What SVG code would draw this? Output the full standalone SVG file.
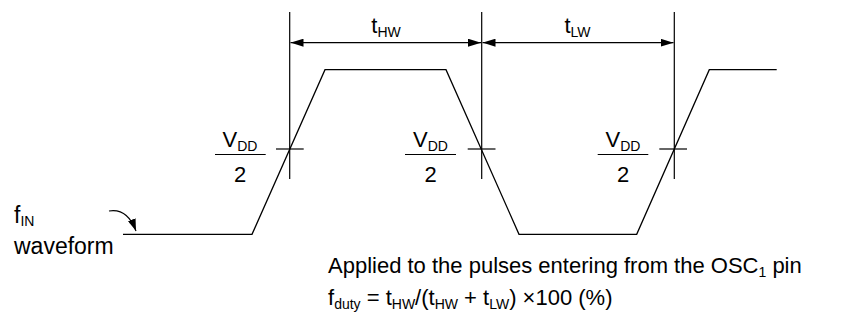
<svg xmlns="http://www.w3.org/2000/svg" width="849" height="322" viewBox="0 0 849 322">
<defs>
<style>
.ln{fill:none;stroke:#000;stroke-width:1.2}
.wave{fill:none;stroke:#000;stroke-width:1.3;stroke-linejoin:miter}
text{font-family:"Liberation Sans",Arial,sans-serif;font-size:22px;fill:#000}
.sub{font-size:14px}
.big{font-size:23px}
</style>
<marker id="ah" viewBox="0 0 13 8" refX="13" refY="4" markerWidth="13" markerHeight="8" markerUnits="userSpaceOnUse" orient="auto-start-reverse">
<path d="M0,0 L13,4 L0,8 Z" fill="#000"/>
</marker>
<marker id="ah2" viewBox="0 0 12 8" refX="12" refY="4" markerWidth="12" markerHeight="8" markerUnits="userSpaceOnUse" orient="auto">
<path d="M0,0 L12,4 L0,8 Z" fill="#000"/>
</marker>
</defs>
<rect width="849" height="322" fill="#fff"/>
<g id="waveform">
<polyline class="wave" points="123,234.3 252,234.3 325,69.7 446,69.7 519,234.3 636.7,234.3 709.3,69.7 776.7,69.7"/>
</g>
<g id="connectors">
<line class="ln" x1="289.7" y1="12" x2="289.7" y2="179"/>
<line class="ln" x1="481.7" y1="12" x2="481.7" y2="179"/>
<line class="ln" x1="674.3" y1="12" x2="674.3" y2="179"/>
<line class="ln" x1="276" y1="149" x2="303.7" y2="149"/>
<line class="ln" x1="467.7" y1="149" x2="495.5" y2="149"/>
<line class="ln" x1="659.3" y1="149" x2="687" y2="149"/>
<line class="ln" x1="290.5" y1="42.7" x2="481" y2="42.7" marker-start="url(#ah)" marker-end="url(#ah)"/>
<line class="ln" x1="482.5" y1="42.7" x2="673.5" y2="42.7" marker-start="url(#ah)" marker-end="url(#ah)"/>
<path class="ln" d="M109,211 C121,209 130,215 136,231" marker-end="url(#ah2)"/>
</g>
<g id="label-thw"><text x="386" y="33" text-anchor="middle">t<tspan class="sub" dy="4">HW</tspan></text></g>
<g id="label-tlw"><text x="577.5" y="33" text-anchor="middle">t<tspan class="sub" dy="4">LW</tspan></text></g>
<g id="frac1">
<text x="240" y="147" text-anchor="middle">V<tspan class="sub" dy="4">DD</tspan></text>
<line class="ln" x1="215" y1="154.5" x2="265.7" y2="154.5"/>
<text x="240" y="182" text-anchor="middle">2</text>
</g>
<g id="frac2">
<text x="430.5" y="147" text-anchor="middle">V<tspan class="sub" dy="4">DD</tspan></text>
<line class="ln" x1="405" y1="154.5" x2="456" y2="154.5"/>
<text x="430.5" y="182" text-anchor="middle">2</text>
</g>
<g id="frac3">
<text x="623" y="147" text-anchor="middle">V<tspan class="sub" dy="4">DD</tspan></text>
<line class="ln" x1="597.7" y1="154.5" x2="648.3" y2="154.5"/>
<text x="623" y="182" text-anchor="middle">2</text>
</g>
<g id="label-fin">
<text class="big" x="14" y="223">f<tspan class="sub" dy="3">IN</tspan></text>
<text class="big" x="14" y="254">waveform</text>
</g>
<g id="notes">
<text x="328" y="273">Applied to the pulses entering from the OSC<tspan class="sub" dy="4">1</tspan><tspan dy="-4"> pin</tspan></text>
<text x="328" y="305">f<tspan class="sub" dy="4">duty</tspan><tspan dy="-4"> = t</tspan><tspan class="sub" dy="4">HW</tspan><tspan dy="-4">/(t</tspan><tspan class="sub" dy="4">HW</tspan><tspan dy="-4"> + t</tspan><tspan class="sub" dy="4">LW</tspan><tspan dy="-4">) ×100 (%)</tspan></text>
</g>
</svg>
